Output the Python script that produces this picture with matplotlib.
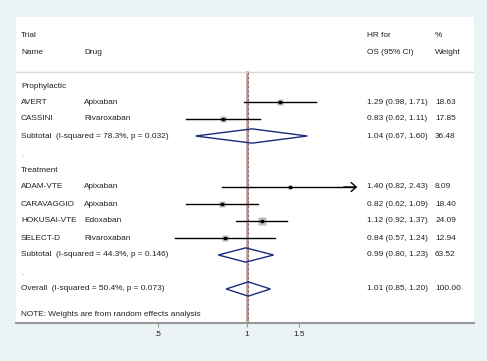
import numpy as np
import matplotlib.pyplot as plt
from matplotlib.patches import Polygon
from matplotlib.transforms import blended_transform_factory

plt.rcParams['font.family'] = ['Liberation Sans', 'DejaVu Sans']

# study rows
trials = ['AVERT', 'CASSINI', 'ADAM-VTE', 'CARAVAGGIO', 'HOKUSAI-VTE', 'SELECT-D']
drugs = ['Apixaban', 'Rivaroxaban', 'Apixaban', 'Apixaban', 'Edoxaban', 'Rivaroxaban']
hr = [1.29, 0.83, 1.40, 0.82, 1.12, 0.84]
lo = [0.98, 0.62, 0.82, 0.62, 0.92, 0.57]
hi = [1.71, 1.11, 2.43, 1.09, 1.37, 1.24]
weights = [18.63, 17.85, 8.09, 18.40, 24.09, 12.94]
study_rows = [5, 6, 10, 11, 12, 13]

# pooled rows
pool_labels = ['Subtotal  (I-squared = 78.3%, p = 0.032)',
               'Subtotal  (I-squared = 44.3%, p = 0.146)',
               'Overall  (I-squared = 50.4%, p = 0.073)']
pool_hr = [1.04, 0.99, 1.01]
pool_lo = [0.67, 0.80, 0.85]
pool_hi = [1.60, 1.23, 1.20]
pool_w = [36.48, 63.52, 100.00]
pool_rows = [7, 14, 16]

group_labels = ['Prophylactic', 'Treatment']
group_rows = [4.06, 9.0]

xticks = [0.5, 1, 1.5]
xticklabels = ['.5', '1', '1.5']

clip_hi = 2.36
fs = 5.95
tc = '#222222'

fig = plt.figure(figsize=(4.87, 3.61), dpi=100)
fig.patch.set_facecolor('#ecf3f6')
ax = fig.add_axes([16 / 487, 38 / 361, 458 / 487, 306 / 361])
ax.set_facecolor('white')
ax.set_xscale('log')
ax.set_xlim(0.1654, 5.86)
ax.set_ylim(18, 0)

for s in ['top', 'right', 'left']:
    ax.spines[s].set_visible(False)
ax.spines['bottom'].set_color('#999999')
ax.spines['bottom'].set_linewidth(1.5)
ax.set_yticks([])
ax.set_xticks(xticks)
ax.set_xticklabels(xticklabels, fontsize=fs, color=tc)
ax.xaxis.set_minor_locator(plt.NullLocator())
ax.tick_params(axis='x', length=3, width=0.8, color='#999999', pad=2.5)

tr = blended_transform_factory(ax.transAxes, ax.transData)
col_name, col_drug, col_hr, col_w = 0.011, 0.149, 0.767, 0.915

# header
ax.text(col_name, 1.06, 'Trial', transform=tr, fontsize=fs, color=tc, va='center')
ax.text(col_name, 2.06, 'Name', transform=tr, fontsize=fs, color=tc, va='center')
ax.text(col_drug, 2.06, 'Drug', transform=tr, fontsize=fs, color=tc, va='center')
ax.text(col_hr, 1.06, 'HR for', transform=tr, fontsize=fs, color=tc, va='center')
ax.text(col_hr, 2.06, 'OS (95% CI)', transform=tr, fontsize=fs, color=tc, va='center')
ax.text(col_w, 1.06, '%', transform=tr, fontsize=fs, color=tc, va='center')
ax.text(col_w, 2.06, 'Weight', transform=tr, fontsize=fs, color=tc, va='center')
ax.axhline(3.24, color='#d9d9d9', lw=1)

# reference lines
ax.plot([1, 1], [3.24, 18], color='#a0a0a0', lw=1.8, zorder=1)
ax.plot([pool_hr[2], pool_hr[2]], [3.24, 18], color='#c85050', lw=0.8,
        ls=(0, (2, 2)), zorder=2)

for lab, r in zip(group_labels, group_rows):
    ax.text(col_name, r, lab, transform=tr, fontsize=fs, color=tc, va='center')
for r in [8.1, 15.1]:
    ax.text(col_name, r, '.', transform=tr, fontsize=fs, color='#888888', va='center')

for i, r in enumerate(study_rows):
    ax.plot(hr[i], r, marker='s', ms=1.05 * np.sqrt(weights[i]), color='#bdbdbd',
            mec='none', zorder=3)
    if hi[i] > clip_hi:
        ax.plot([lo[i], clip_hi * 0.98], [r, r], color='black', lw=1, zorder=4)
        ax.annotate('', xy=(clip_hi, r), xytext=(clip_hi * 0.9, r),
                    arrowprops=dict(arrowstyle='->,head_length=0.45,head_width=0.4',
                                    color='black', lw=1,
                                    mutation_scale=8, shrinkA=0, shrinkB=0))
    else:
        ax.plot([lo[i], hi[i]], [r, r], color='black', lw=1, zorder=4)
    ax.plot(hr[i], r, marker='s', ms=2, color='black', zorder=5)
    ax.text(col_name, r, trials[i], transform=tr, fontsize=fs, color=tc, va='center')
    ax.text(col_drug, r, drugs[i], transform=tr, fontsize=fs, color=tc, va='center')
    ax.text(col_hr, r, f'{hr[i]:.2f} ({lo[i]:.2f}, {hi[i]:.2f})', transform=tr,
            fontsize=fs, color=tc, va='center')
    ax.text(col_w, r, f'{weights[i]:.2f}', transform=tr, fontsize=fs, color=tc,
            va='center')

for i, r in enumerate(pool_rows):
    h = 0.42
    dia = Polygon([(pool_lo[i], r), (pool_hr[i], r - h), (pool_hi[i], r),
                   (pool_hr[i], r + h)], closed=True, fill=False,
                  edgecolor='#1c2a7c', lw=1, zorder=4)
    ax.add_patch(dia)
    ax.text(col_name, r, pool_labels[i], transform=tr, fontsize=fs, color=tc,
            va='center')
    ax.text(col_hr, r, f'{pool_hr[i]:.2f} ({pool_lo[i]:.2f}, {pool_hi[i]:.2f})',
            transform=tr, fontsize=fs, color=tc, va='center')
    ax.text(col_w, r, f'{pool_w[i]:.2f}', transform=tr, fontsize=fs, color=tc,
            va='center')

ax.text(col_name, 17.5, 'NOTE: Weights are from random effects analysis',
        transform=tr, fontsize=fs, color=tc, va='center')

fig.savefig('out.png', dpi=100, facecolor=fig.get_facecolor())
